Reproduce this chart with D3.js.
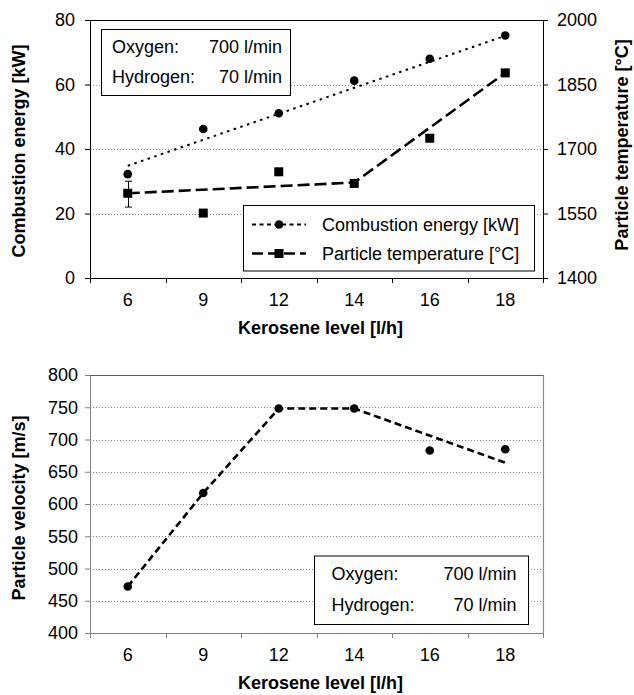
<!DOCTYPE html>
<html><head><meta charset="utf-8">
<script src="https://cdn.jsdelivr.net/npm/d3@7"></script>
<style>
body{margin:0;background:#fff}
svg{display:block}
text{font-family:"Liberation Sans",Arial,Helvetica,sans-serif;fill:#000}
</style>
</head><body>
<svg id="c" width="634" height="695"></svg>
<script>
// ---------- data ----------
const categories = [6, 9, 12, 14, 16, 18];
const combustionEnergy = [32.2, 46.2, 51.1, 61.2, 68.0, 75.2];
const particleTemperature = [1597, 1551, 1647, 1620, 1725, 1877];
const temperatureErrorBar = [{x: 6, low: 1565, high: 1625}];
const energyTrendX = [6, 18];
const energyTrendY = [34.8, 75.1];
const temperatureTrendX = [6, 14, 18];
const temperatureTrendY = [1597, 1622, 1877];
const particleVelocity = [472, 617, 748, 748, 683, 685];
const velocityTrendX = [6, 9, 12, 14, 18];
const velocityTrendY = [472, 617, 748, 748, 664];
const energyTicks = [0, 20, 40, 60, 80];
const temperatureTicks = [1400, 1550, 1700, 1850, 2000];
const velocityTicks = [400, 450, 500, 550, 600, 650, 700, 750, 800];
const legendLabels = ["Combustion energy [kW]", "Particle temperature [°C]"];
const conditionLabels = ["Oxygen:", "Hydrogen:"];
const conditionValues = ["700 l/min", "70 l/min"];
const xTitle = "Kerosene level [l/h]";

// ---------- drawing ----------
const svg = d3.select("#c");
svg.append("rect").attr("width", 634).attr("height", 695).attr("fill", "#fff");
const FS = 18;
const fmt = d3.format("d");

function xScales(L, R) {
  const band = d3.scaleBand().domain(categories).range([L, R]);
  const pos = c => band(c) + band.bandwidth() / 2;
  return {band, pos};
}

function grid(g, ticks, y, L, R, skip) {
  g.selectAll(null).data(ticks.filter(v => !skip.includes(v))).enter().append("line")
    .attr("x1", L).attr("x2", R)
    .attr("y1", d => Math.round(y(d)) + 0.5).attr("y2", d => Math.round(y(d)) + 0.5)
    .attr("stroke", "#8a8a8a").attr("stroke-width", 1).attr("stroke-dasharray", "1,2");
}

function bottomAxis(g, xs, L, R, B, color) {
  const ax = g.append("g").attr("transform", `translate(0,${B})`)
    .call(d3.axisBottom(xs.band).tickSize(0).tickPadding(15.7));
  ax.select(".domain").remove();
  ax.selectAll("text").attr("font-size", FS).attr("font-family", null);
  const bounds = categories.map(c => xs.band(c)).concat([R]);
  g.selectAll(null).data(bounds).enter().append("line")
    .attr("x1", d => Math.round(d) + 0.5).attr("x2", d => Math.round(d) + 0.5)
    .attr("y1", B).attr("y2", B + 5).attr("stroke", color);
  g.append("line").attr("x1", L).attr("x2", R + 1).attr("y1", B + 0.5).attr("y2", B + 0.5)
    .attr("stroke", color);
  g.append("text").attr("x", (L + R) / 2 + 4).attr("y", B + 56)
    .attr("text-anchor", "middle").attr("font-size", FS).attr("font-weight", "bold").text(xTitle);
}

function styleAxis(ax, color) {
  ax.attr("font-family", null).attr("font-size", null);
  ax.selectAll("text").attr("font-size", FS).style("fill", "#000");
  ax.selectAll("line").attr("stroke", color);
  ax.select(".domain").attr("stroke", color);
}

function infoBox(g, x, y, w, h, tx, vx, b1, b2) {
  g.append("rect").attr("x", x + 0.5).attr("y", y + 0.5).attr("width", w).attr("height", h)
    .attr("fill", "#fff").attr("stroke", "#000");
  [b1, b2].forEach((by, i) => {
    g.append("text").attr("x", tx).attr("y", by).attr("font-size", FS).text(conditionLabels[i]);
    g.append("text").attr("x", vx).attr("y", by).attr("font-size", FS)
      .attr("text-anchor", "end").text(conditionValues[i]);
  });
}

// ===== TOP CHART =====
(function () {
  const L = 90, R = 543, T = 20, B = 278;
  const xs = xScales(L, R);
  const yE = d3.scaleLinear().domain([0, 80]).range([B, T]);
  const yT = d3.scaleLinear().domain([1400, 2000]).range([B, T]);
  const g = svg.append("g");

  grid(g, energyTicks, yE, L, R, [0, 80]);

  // top border
  g.append("line").attr("x1", L).attr("x2", R + 1).attr("y1", T + 0.5).attr("y2", T + 0.5).attr("stroke", "#000");

  const la = g.append("g").attr("transform", `translate(${L},0)`)
    .call(d3.axisLeft(yE).tickValues(energyTicks).tickFormat(fmt).tickSize(5).tickSizeOuter(0).tickPadding(10));
  styleAxis(la, "#000");
  const ra = g.append("g").attr("transform", `translate(${R},0)`)
    .call(d3.axisRight(yT).tickValues(temperatureTicks).tickFormat(fmt).tickSize(5).tickSizeOuter(0).tickPadding(9));
  styleAxis(ra, "#000");

  bottomAxis(g, xs, L, R, B, "#000");

  // titles
  g.append("text").attr("transform", `translate(25,${(T + B) / 2 + 2}) rotate(-90)`)
    .attr("text-anchor", "middle").attr("font-size", FS).attr("font-weight", "bold")
    .text("Combustion energy [kW]");
  g.append("text").attr("transform", `translate(628,${(T + B) / 2 - 4}) rotate(-90)`)
    .attr("text-anchor", "middle").attr("font-size", FS).attr("font-weight", "bold")
    .text("Particle temperature [°C]");

  // trend lines
  const lineE = d3.line().x(d => xs.pos(d[0])).y(d => yE(d[1]));
  const lineT = d3.line().x(d => xs.pos(d[0])).y(d => yT(d[1]));
  g.append("path").attr("d", lineE(energyTrendX.map((x, i) => [x, energyTrendY[i]])))
    .attr("fill", "none").attr("stroke", "#000").attr("stroke-width", 2).attr("stroke-dasharray", "2.5,4.5");
  g.append("path").attr("d", lineT(temperatureTrendX.map((x, i) => [x, temperatureTrendY[i]])))
    .attr("fill", "none").attr("stroke", "#000").attr("stroke-width", 2.6).attr("stroke-dasharray", "12,5");

  // error bar
  temperatureErrorBar.forEach(e => {
    const cx = Math.round(xs.pos(e.x)) + 0.5;
    g.append("line").attr("x1", cx).attr("x2", cx).attr("y1", yT(e.low)).attr("y2", yT(e.high)).attr("stroke", "#000");
    [e.low, e.high].forEach(v => g.append("line").attr("x1", cx - 3.5).attr("x2", cx + 3.5)
      .attr("y1", yT(v)).attr("y2", yT(v)).attr("stroke", "#000"));
  });

  // markers
  g.selectAll(null).data(categories).enter().append("circle")
    .attr("cx", (c) => xs.pos(c)).attr("cy", (c, i) => yE(combustionEnergy[i])).attr("r", 4.3).attr("fill", "#000");
  g.selectAll(null).data(categories).enter().append("rect")
    .attr("x", c => xs.pos(c) - 4.5).attr("y", (c, i) => yT(particleTemperature[i]) - 4.5)
    .attr("width", 9).attr("height", 9).attr("fill", "#000");

  // info box
  infoBox(g, 101, 29, 189, 66, 112, 282, 53, 82.5);

  // legend
  const lg = g.append("g");
  lg.append("rect").attr("x", 243.5).attr("y", 205.5).attr("width", 291).attr("height", 65.5)
    .attr("fill", "#fff").attr("stroke", "#000");
  const rows = [224.5, 253.5];
  lg.append("line").attr("x1", 252).attr("x2", 306).attr("y1", rows[0]).attr("y2", rows[0])
    .attr("stroke", "#000").attr("stroke-width", 2).attr("stroke-dasharray", "4,3.5");
  lg.append("circle").attr("cx", 279).attr("cy", rows[0]).attr("r", 4.3).attr("fill", "#000");
  lg.append("line").attr("x1", 252).attr("x2", 306).attr("y1", rows[1]).attr("y2", rows[1])
    .attr("stroke", "#000").attr("stroke-width", 2.6).attr("stroke-dasharray", "11,5");
  lg.append("rect").attr("x", 274.5).attr("y", rows[1] - 4.5).attr("width", 9).attr("height", 9).attr("fill", "#000");
  legendLabels.forEach((t, i) => lg.append("text").attr("x", 322).attr("y", rows[i] + 6.5)
    .attr("font-size", FS).text(t));
})();

// ===== BOTTOM CHART =====
(function () {
  const L = 90, R = 543, T = 375, B = 633;
  const xs = xScales(L, R);
  const yV = d3.scaleLinear().domain([400, 800]).range([B, T]);
  const g = svg.append("g");

  grid(g, velocityTicks, yV, L, R, [400, 800]);

  g.append("line").attr("x1", L).attr("x2", R + 1).attr("y1", T + 0.5).attr("y2", T + 0.5).attr("stroke", "#5a5a5a").attr("stroke-width", 1.2);
  g.append("line").attr("x1", R + 0.5).attr("x2", R + 0.5).attr("y1", T).attr("y2", B).attr("stroke", "#8a8a8a").attr("stroke-width", 1.2);

  const la = g.append("g").attr("transform", `translate(${L},0)`)
    .call(d3.axisLeft(yV).tickValues(velocityTicks).tickFormat(fmt).tickSize(5).tickSizeOuter(0).tickPadding(7));
  styleAxis(la, "#808080");

  bottomAxis(g, xs, L, R, B, "#808080");

  g.append("text").attr("transform", `translate(25,${(T + B) / 2 + 4}) rotate(-90)`)
    .attr("text-anchor", "middle").attr("font-size", FS).attr("font-weight", "bold")
    .text("Particle velocity [m/s]");

  const lineV = d3.line().x(d => xs.pos(d[0])).y(d => yV(d[1]));
  g.append("path").attr("d", lineV(velocityTrendX.map((x, i) => [x, velocityTrendY[i]])))
    .attr("fill", "none").attr("stroke", "#000").attr("stroke-width", 2.6).attr("stroke-dasharray", "7,4");

  g.selectAll(null).data(categories).enter().append("circle")
    .attr("cx", c => xs.pos(c)).attr("cy", (c, i) => yV(particleVelocity[i])).attr("r", 4.3).attr("fill", "#000");

  infoBox(g, 314, 555.5, 214, 68.5, 331.5, 516.5, 580, 610.5);
})();
</script>
</body></html>
